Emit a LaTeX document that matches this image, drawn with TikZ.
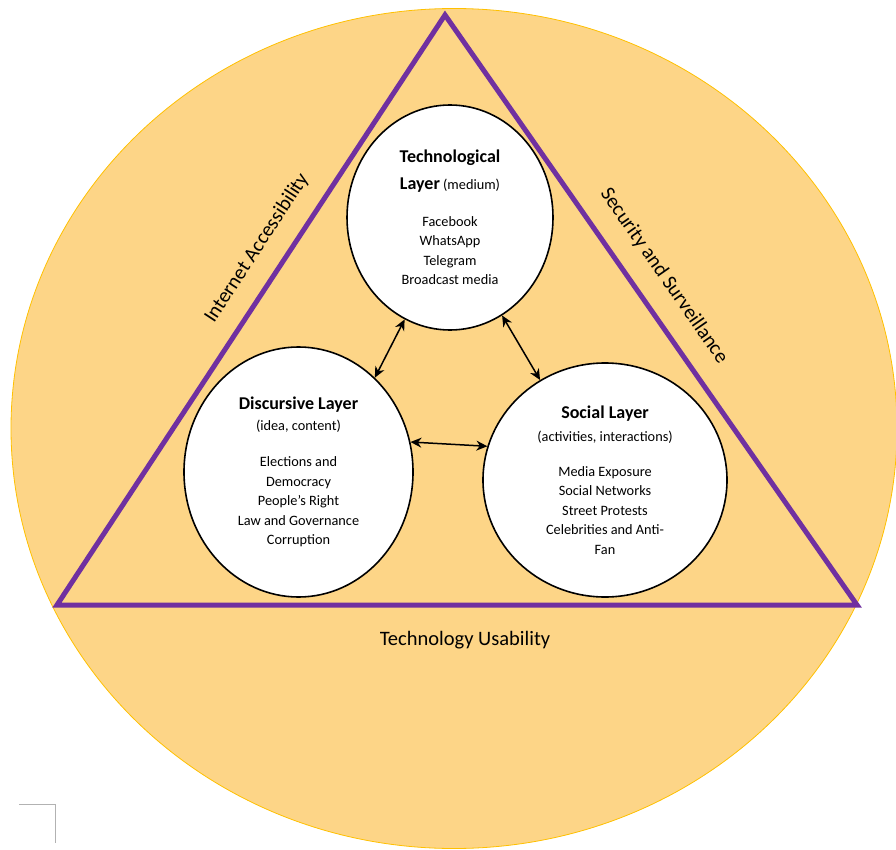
\documentclass[tikz,border=0pt]{standalone}
\usepackage{fontspec}
\setmainfont{Carlito}
\usetikzlibrary{arrows.meta}
\usetikzlibrary{shapes.geometric}
\definecolor{ringfill}{HTML}{FDD587}
\definecolor{ringedge}{HTML}{FFC000}
\definecolor{layerviolet}{HTML}{7030A0}
\tikzset{layer/.style={draw=black, line width=1.6pt, fill=white, ellipse, inner sep=0pt,
  align=center, font=\fontsize{14.3}{19.5}\selectfont}}
\tikzset{link/.style={{Stealth[length=11pt,width=10pt]}-{Stealth[length=11pt,width=10pt]}, line width=1.5pt}}
\tikzset{side/.style={font=\fontsize{20.5}{24}\selectfont}}
\newcommand{\ttl}[1]{{\fontsize{18}{22}\selectfont\bfseries #1}}

\begin{document}
\begin{tikzpicture}[x=10pt,y=-10pt]
      \useasboundingbox (0,0) rectangle (89.6,85);
      \draw [ringedge, fill=ringfill, line width=0.8pt] (45.4,42.85) ellipse [x radius=443pt, y radius=420pt];
      \draw [layerviolet, line width=5pt] (44.5,1.5) -- (85.7,60.5) -- (5.7,60.5) -- cycle;

      \node [layer, minimum width=206pt, minimum height=225pt] (tech) at (45,21.75)
        {\ttl{Technological}\\[7pt] \ttl{Layer} (medium)\\[17.5pt] Facebook\\ WhatsApp\\ Telegram\\ Broadcast media};
      \node [layer, minimum width=229pt, minimum height=250pt] (disc) at (29.85,47.2)
        {\ttl{Discursive Layer}\\[1.5pt] (idea, content)\\[16.5pt] Elections and\\ Democracy\\ People’s Right\\ Law and Governance\\ Corruption};
      \node [layer, minimum width=244pt, minimum height=234pt] (soc) at (60.5,48)
        {\ttl{Social Layer}\\[3.5pt] (activities, interactions)\\[15.5pt] Media Exposure\\ Social Networks\\ Street Protests\\ Celebrities and Anti-\\ Fan};

      \draw [link] (tech.246) -- (disc.51);
      \draw [link] (tech.298) -- (soc.123);
      \draw [link] (disc.15) -- (soc.164);

      \node [side, rotate=56.8] (access) at (25.7,24.8) {Internet Accessibility};
      \node [side, rotate=-55.1] (secure) at (66.4,27.6) {Security and Surveillance};
      \node [side] (usable) at (46.5,64) {Technology Usability};

      \draw [gray!60, line width=0.8pt] (1.9,80.4) -- (5.5,80.4) -- (5.5,84.3);
\end{tikzpicture}
\end{document}
